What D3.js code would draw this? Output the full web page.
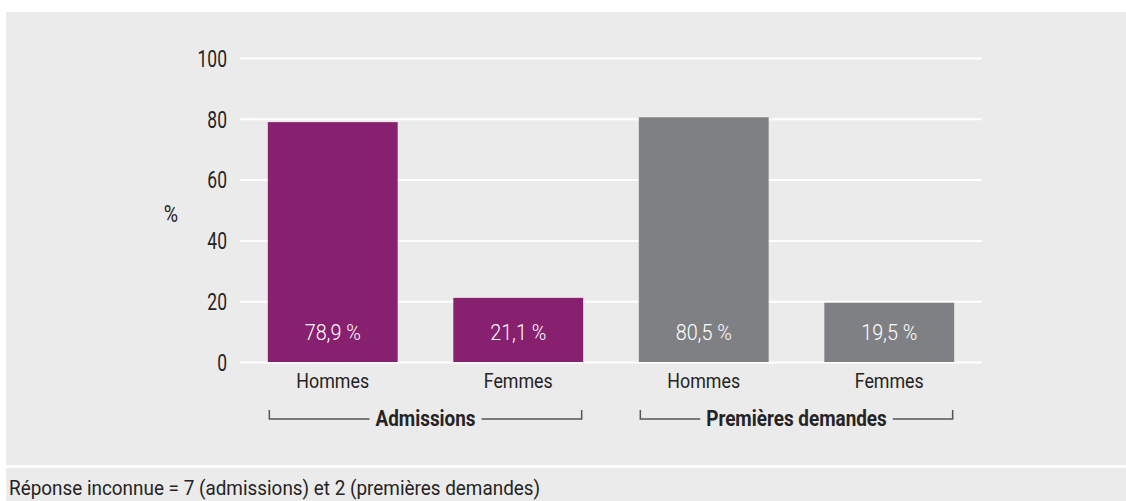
<!DOCTYPE html>
<html>
<head>
<meta charset="utf-8">
<script src="https://cdn.jsdelivr.net/npm/d3@7"></script>
<style>
    html, body { margin: 0; padding: 0; background: #fff; }
    svg { display: block; }
    text { font-family: "Roboto", "Liberation Sans", sans-serif; }
</style>
</head>
<body>
<div id="render-zone"></div>
<script>
/* data */
var categories = [ "Hommes", "Femmes", "Hommes", "Femmes" ],
    groups     = [ "Admissions", "Admissions", "Premières demandes", "Premières demandes" ],
    values     = [ 78.9, 21.1, 80.5, 19.5 ],
    valueLabels = [ "78,9 %", "21,1 %", "80,5 %", "19,5 %" ],
    groupNames = [ "Admissions", "Premières demandes" ],
    yTicks     = [ 0, 20, 40, 60, 80, 100 ],
    note       = "Réponse inconnue = 7 (admissions) et 2 (premières demandes)";

(function( ) {
"use strict";

var W = 1126, H = 501,
    _d = {
        panel   : "#ebebeb",
        purple  : "#882070",
        grey    : "#7f8083",
        ink     : "#262324",
        plot    : { left : 240, right : 982, top : 58, bottom : 362 }
    },
    svg = d3.select("#render-zone").append("svg").attr("width", W).attr("height", H),
    idx = d3.range( values.length ),
    x, y, g, bars,

    /* _cond
     * places a text at (px,py) squeezed horizontally by k
     * (the original uses a condensed face we don't have)
     */
    _cond = function( sel, px, py, k ) {
        return sel.attr("x", 0).attr("y", 0)
            .attr("transform", function( d, i ){
                var a = typeof px === "function" ? px( d, i ) : px,
                    b = typeof py === "function" ? py( d, i ) : py;
                return "translate(" + a + "," + b + ") scale(" + k + ",1)";
            });
    };

/* background panels */
svg.append("rect").attr("x", 6).attr("y", 12).attr("width", W - 6).attr("height", 453).attr("fill", _d.panel);
svg.append("rect").attr("x", 6).attr("y", 468).attr("width", W - 6).attr("height", H - 468).attr("fill", _d.panel);

/* scales */
x = d3.scaleBand( ).domain( idx ).range([ _d.plot.left, _d.plot.right ]).paddingInner( 0.3 ).paddingOuter( 0.15 );
y = d3.scaleLinear( ).domain([ 0, 100 ]).range([ _d.plot.bottom, _d.plot.top ]);

/* grid + y axis */
g = svg.append("g").attr("transform", "translate(" + _d.plot.left + ",0)")
    .call( d3.axisLeft( y ).tickValues( yTicks ).tickSize( -( _d.plot.right - _d.plot.left ) ).tickPadding( 0 ) );
g.select(".domain").remove( );
g.selectAll(".tick line").attr("stroke", "#fff").attr("stroke-width", 2);
_cond( g.selectAll(".tick text"), -13, 0, 0.76 )
    .attr("fill", _d.ink).attr("font-size", 23).attr("dy", "0.36em")
    .style("font-family", "Roboto, sans-serif");

_cond( svg.append("text"), 171, 222, 0.85 ).attr("text-anchor", "middle")
    .attr("font-size", 23).attr("fill", _d.ink).text("%");

/* bars */
bars = svg.append("g").selectAll("g").data( idx ).join("g");
bars.append("rect")
    .attr("x", function( i ){ return x( i ); })
    .attr("width", x.bandwidth( ))
    .attr("y", function( i ){ return y( values[i] ); })
    .attr("height", function( i ){ return y( 0 ) - y( values[i] ); })
    .attr("fill", function( i ){ return groups[i] === groupNames[0] ? _d.purple : _d.grey; });

_cond( bars.append("text"), function( i ){ return x( i ) + x.bandwidth( ) / 2; }, 340, 0.9 )
    .attr("text-anchor", "middle")
    .attr("font-size", 22).attr("font-weight", 300).attr("fill", "#fff")
    .text(function( i ){ return valueLabels[i]; });

_cond( bars.append("text"), function( i ){ return x( i ) + x.bandwidth( ) / 2; }, 388, 0.85 )
    .attr("text-anchor", "middle")
    .attr("font-size", 21).attr("fill", _d.ink)
    .text(function( i ){ return categories[i]; });

/* group brackets */
groupNames.forEach(function( name ){
    var members = idx.filter(function( i ){ return groups[i] === name; }),
        x0 = x( members[0] ) + 1.5,
        x1 = x( members[members.length - 1] ) + x.bandwidth( ) - 1.5,
        cx = ( x0 + x1 ) / 2,
        ly = 419,
        k = 0.86,
        bg = svg.append("g"),
        label = _cond( bg.append("text"), cx, 426, k ).attr("text-anchor", "middle")
            .attr("font-size", 22).attr("font-weight", "bold").attr("fill", _d.ink).text( name ),
        half = label.node( ).getComputedTextLength( ) * k / 2 + 6;

    bg.append("path")
        .attr("d", "M" + x0 + "," + ( ly - 9 ) + "V" + ly + "H" + ( cx - half ) +
                   "M" + ( cx + half ) + "," + ly + "H" + x1 + "V" + ( ly - 9 ))
        .attr("fill", "none").attr("stroke", "#555").attr("stroke-width", 1.5);
});

/* footnote */
_cond( svg.append("text"), 9, 495, 0.9 ).attr("font-size", 21).attr("fill", _d.ink).text( note );

})( );
</script>
</body>
</html>
